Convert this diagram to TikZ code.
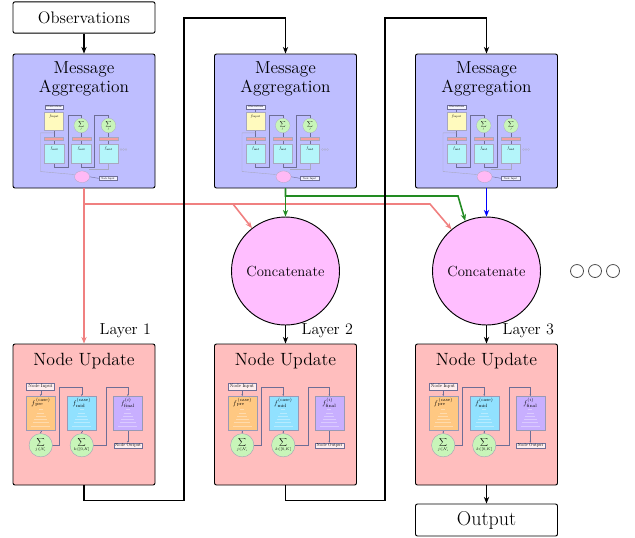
\documentclass[tikz,border=0pt]{standalone}
\usetikzlibrary{arrows.meta,positioning}
\definecolor{aggblue}{RGB}{190,190,255}
\definecolor{updred}{RGB}{255,190,190}
\definecolor{catpink}{RGB}{255,190,255}
\definecolor{salmonred}{RGB}{240,128,128}
\definecolor{fgreen}{RGB}{34,139,34}
\definecolor{minyellow}{RGB}{255,250,190}
\definecolor{mincyan}{RGB}{180,245,250}
\definecolor{mingreen}{RGB}{200,245,185}
\definecolor{minred}{RGB}{245,160,160}
\definecolor{minpink}{RGB}{255,185,245}
\definecolor{minorange}{RGB}{255,200,130}
\definecolor{minsky}{RGB}{145,225,255}
\definecolor{minpurple}{RGB}{200,175,255}
\definecolor{minline}{RGB}{110,110,150}

\tikzset{
  box/.style={draw, rounded corners=1.5pt, line width=0.7pt},
  whitebox/.style={box, fill=white, minimum width=106.5pt, minimum height=23.5pt, inner sep=0pt},
  aggbox/.style={box, fill=aggblue, minimum width=106.5pt, minimum height=100.5pt},
  updbox/.style={box, fill=updred, minimum width=106.5pt, minimum height=105.75pt},
  catnode/.style={circle, draw, line width=0.7pt, fill=catpink, minimum size=81pt, inner sep=0pt, font=\fontsize{11}{13}\selectfont},
  title/.style={align=center, font=\fontsize{13}{14.3}\selectfont},
  laylabel/.style={anchor=west, font=\fontsize{12}{14}\selectfont},
  flow/.style={line width=1.2pt, ->},
  tiny/.style={inner sep=0pt},
  % small drawing inside the message aggregation boxes
  aggmini/.pic={
    \draw[minline, line width=0.3pt] (41.5,55) -- (41.5,91);
    \draw[minline, line width=0.3pt] (41.5,109.3) -- (41.5,113.7) -| (55.3,61.7) -| (68.7,64.7);
    \draw[minline, line width=0.3pt] (68.7,109.3) -- (68.7,113.7) -| (82,61.7) -| (96,64.7);
    \draw[minline, line width=0.3pt] (68.7,79.3) -- (68.7,91);
    \draw[minline, line width=0.3pt] (96,79.3) -- (96,91);
    \draw[minline!60, line width=0.3pt] (41.5,79.3) -| (28,118) -- (62,121);
    \draw[minline!60, line width=0.3pt] (95.8,109.3) |- (76,116);
    \draw[minline, line width=0.3pt] (77,123.2) -- (86,124.8);
    \node[draw=minline, fill=white!85!aggblue, line width=0.2pt, minimum width=14pt, minimum height=3pt, inner sep=0pt] (-obs) at (41.5,53.5) {};
    \node[tiny, scale=0.2] (-obst) at (-obs) {Observations};
    \fill[minyellow, draw=minline!60, line width=0.2pt] (32,59) rectangle (51,77);
    \node[tiny, scale=0.3] (-fin) at (41.5,63) {$f_{\mathrm{input}}$};
    \foreach \cx in {41.5,68.7,95.8} {
      \fill[minred, draw=minline!60, line width=0.2pt] (\cx-9.5,83.7) rectangle (\cx+9.5,86.7);
      \fill[mincyan, draw=minline!60, line width=0.2pt] (\cx-9.7,91) rectangle (\cx+9.7,109.3);
      \node[tiny, scale=0.3] at (\cx,95) {$f_{\mathrm{mid}}$};
    }
    \foreach \cx in {68.7,96} {
      \fill[mingreen, draw=minline!60, line width=0.2pt] (\cx,72) circle (7.3);
      \node[tiny, scale=0.3] at (\cx,72) {$\displaystyle\sum_{j}$};
    }
    \fill[minpink, draw=minline!60, line width=0.2pt] (69.5,123.2) ellipse (7.5 and 5.8);
    \node[draw=minline, fill=white!80!aggblue, line width=0.2pt, minimum width=14pt, minimum height=3pt, inner sep=0pt] (-nin) at (95.5,124.8) {};
    \node[tiny, scale=0.2] (-nint) at (-nin) {Node Input};
    \foreach \cx in {108.5,111,113.5}
      \draw[minline!60, line width=0.15pt] (\cx,96) circle (1);
  },
  % small drawing inside the node update boxes
  updmini/.pic={
    \draw[minline, line width=0.35pt, -{Stealth[length=1.5pt]}] (28.2,46.7) -- (28.2,52.7);
    \draw[minline, line width=0.35pt, -{Stealth[length=1.5pt]}] (28.2,87) -- (28.2,90);
    \draw[minline, line width=0.35pt, -{Stealth[length=1.5pt]}] (39.9,101.7) -| (47,43.3) -| (69.2,52.7);
    \draw[minline, line width=0.35pt, -{Stealth[length=1.5pt]}] (69.2,87) -- (69.2,90);
    \draw[minline, line width=0.35pt, -{Stealth[length=1.5pt]}] (80.9,101.7) -| (93.7,43.3) -| (115.3,52.7);
    \draw[minline, line width=0.35pt, -{Stealth[length=1.5pt]}] (115.3,87) -- (115.3,99.3);
    \node[draw=minline, fill=white!75!updred, line width=0.25pt, minimum width=21pt, minimum height=5.5pt, inner sep=0pt] (-nin) at (28,43) {};
    \node[tiny, scale=0.36] (-nint) at (-nin) {Node Input};
    \node[draw=minline!70, fill=minorange, line width=0.25pt, minimum width=21.75pt, minimum height=25.7pt, inner sep=0pt] (-pre) at (28.2,69.8) {};
    \node[draw=minline!70, fill=minsky, line width=0.25pt, minimum width=21.75pt, minimum height=25.7pt, inner sep=0pt] (-mid) at (69.2,69.8) {};
    \node[draw=minline!70, fill=minpurple, line width=0.25pt, minimum width=21.75pt, minimum height=25.7pt, inner sep=0pt] (-fin) at (115.3,69.8) {};
    \foreach \k in {0,...,5} {
      \draw[white, opacity=0.35, line width=0.4pt] (28.2-2-\k*1.5,66+\k*3.3) -- (28.2+2+\k*1.5,66+\k*3.3);
      \draw[white, opacity=0.35, line width=0.4pt] (69.2-2-\k*1.5,66+\k*3.3) -- (69.2+2+\k*1.5,66+\k*3.3);
      \draw[white, opacity=0.35, line width=0.4pt] (115.3-2-\k*1.5,66+\k*3.3) -- (115.3+2+\k*1.5,66+\k*3.3);
    }
    \node[tiny, scale=0.5] (-pret) at (28.2,59) {$f^{\,\mathrm{(case)}}_{\,\mathrm{pre}}$};
    \node[tiny, scale=0.5] (-midt) at (69.2,59) {$f^{\mathrm{(case)}}_{\mathrm{mid}}$};
    \node[tiny, scale=0.5] (-fint) at (115.3,59) {$f^{(i)}_{\mathrm{final}}$};
    \node[circle, draw=minline!70, fill=mingreen, line width=0.25pt, minimum size=17.5pt, inner sep=0pt] (-sum1) at (28.2,101.7) {};
    \node[circle, draw=minline!70, fill=mingreen, line width=0.25pt, minimum size=17.5pt, inner sep=0pt] (-sum2) at (69.2,101.7) {};
    \node[tiny, scale=0.42] (-sum1t) at (-sum1) {$\displaystyle\sum_{j\in\mathcal{N}_i}$};
    \node[tiny, scale=0.42] (-sum2t) at (-sum2) {$\displaystyle\sum_{k\in[0,K]}$};
    \node[draw=minline, fill=white!75!updred, line width=0.25pt, minimum width=21.3pt, minimum height=4.3pt, inner sep=0pt] (-nout) at (115.5,102.2) {};
    \node[tiny, scale=0.33] (-noutt) at (-nout) {Node Output};
  }
}

\begin{document}
\begin{tikzpicture}[x=0.75pt,y=-0.75pt,>={Stealth[length=5pt,width=4pt]}]
   \useasboundingbox (0,0) rectangle (635,537);

   % inputs and outputs
   \node[whitebox, font=\fontsize{12.5}{14}\selectfont] (obs) at (84,17.5) {Observations};
   \node[whitebox, minimum height=24pt, font=\fontsize{15}{17}\selectfont] (out) at (486.5,520) {Output};

   % message aggregation
   \node[aggbox] (agg1) at (84,121) {};
   \node[aggbox] (agg2) at (285.5,121) {};
   \node[aggbox] (agg3) at (486.5,121) {};
   \node[title] (agg1t) at ([yshift=-19pt]agg1.north) {Message\\Aggregation};
   \node[title] (agg2t) at ([yshift=-19pt]agg2.north) {Message\\Aggregation};
   \node[title] (agg3t) at ([yshift=-19pt]agg3.north) {Message\\Aggregation};
   \pic (agg1m) at (agg1.north west) {aggmini};
   \pic (agg2m) at (agg2.north west) {aggmini};
   \pic (agg3m) at (agg3.north west) {aggmini};

   % concatenation
   \node[catnode] (cat2) at (285.5,271) {Concatenate};
   \node[catnode] (cat3) at (486.5,271) {Concatenate};

   % node update
   \node[updbox] (upd1) at (84,414.5) {};
   \node[updbox] (upd2) at (285.5,414.5) {};
   \node[updbox] (upd3) at (486.5,414.5) {};
   \node[title, font=\fontsize{13.3}{15}\selectfont] (upd1t) at ([yshift=-13.5pt]upd1.north) {Node Update};
   \node[title, font=\fontsize{13.3}{15}\selectfont] (upd2t) at ([yshift=-13.5pt]upd2.north) {Node Update};
   \node[title, font=\fontsize{13.3}{15}\selectfont] (upd3t) at ([yshift=-13.5pt]upd3.north) {Node Update};
   \pic (upd1m) at (upd1.north west) {updmini};
   \pic (upd2m) at (upd2.north west) {updmini};
   \pic (upd3m) at (upd3.north west) {updmini};

   \node[laylabel] (lay1) at (95,331) {Layer 1};
   \node[laylabel] (lay2) at (297,331) {Layer 2};
   \node[laylabel] (lay3) at (498,331) {Layer 3};

   % messages to the layers
   \coordinate (rbend2) at (233,204);
   \coordinate (rbend3) at (430,204);
   \coordinate (gbend3) at (458,196);
   \draw[flow, salmonred] (agg1.south) -- (upd1.north);
   \draw[flow, salmonred] (agg1.south) |- (rbend2) -- (cat2.128);
   \draw[flow, salmonred] (rbend2) -- (rbend3) -- (cat3.130);
   \draw[flow, fgreen] (agg2.south) -- (cat2.north);
   \draw[flow, fgreen] (agg2.south) |- (gbend3) -- (cat3.113);
   \draw[flow, blue] (agg3.south) -- (cat3.north);

   % layer to layer
   \draw[flow] (obs.south) -- (agg1.north);
   \draw[flow] (cat2.south) -- (upd2.north);
   \draw[flow] (cat3.south) -- (upd3.north);
   \draw[flow] (upd1.south) -- ++(0,15) -| (184,18) -| (agg2.north);
   \draw[flow] (upd2.south) -- ++(0,15) -| (385,18) -| (agg3.north);
   \draw[flow] (upd3.south) -- (out.north);

   % more layers
   \foreach \x in {577,595,613}
     \draw[black!70, line width=0.6pt] (\x,271) circle (6.5);
\end{tikzpicture}
\end{document}
